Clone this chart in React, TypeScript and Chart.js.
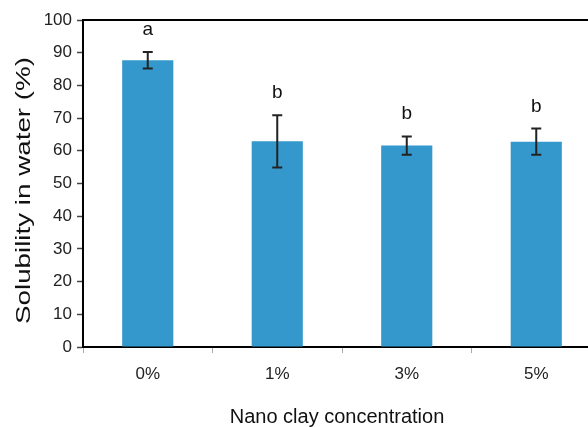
import React, { useEffect, useRef } from "react";
import { Chart, registerables } from "chart.js";

Chart.register(...registerables);

const categories = ["0%", "1%", "3%", "5%"];
const values = [87.7, 62.9, 61.6, 62.8];
const errors = [2.5, 8, 2.8, 4];
const letters = ["a", "b", "b", "b"];
const yTitle = "Solubility in water (%)";
const xTitle = "Nano clay concentration";

const FONT = "'Liberation Sans', Arial, sans-serif";

const extrasPlugin = {
  id: "extras",
  afterDatasetsDraw(chart: any) {
    const { ctx, chartArea, scales } = chart;
    const xs = scales.x;
    const ys = scales.y;
    ctx.save();
    // top border
    ctx.strokeStyle = "#000";
    ctx.lineWidth = 2;
    ctx.beginPath();
    ctx.moveTo(chartArea.left - 1, chartArea.top);
    ctx.lineTo(chartArea.right, chartArea.top);
    ctx.stroke();
    // error bars and letters
    ctx.strokeStyle = "#222";
    ctx.lineWidth = 2;
    values.forEach((v, i) => {
      const x = xs.getPixelForValue(i);
      const yt = ys.getPixelForValue(v + errors[i]);
      const yb = ys.getPixelForValue(v - errors[i]);
      ctx.beginPath();
      ctx.moveTo(x, yt);
      ctx.lineTo(x, yb);
      ctx.moveTo(x - 5, yt);
      ctx.lineTo(x + 5, yt);
      ctx.moveTo(x - 5, yb);
      ctx.lineTo(x + 5, yb);
      ctx.stroke();
      ctx.fillStyle = "#111";
      ctx.font = `19px ${FONT}`;
      ctx.textAlign = "center";
      ctx.textBaseline = "alphabetic";
      ctx.fillText(letters[i], x, yt - 17);
    });
    // y title (stretched along its length like the reference)
    ctx.fillStyle = "#111";
    ctx.font = `20px ${FONT}`;
    ctx.textAlign = "center";
    ctx.textBaseline = "middle";
    const w = ctx.measureText(yTitle).width;
    const targetLen = 267;
    ctx.save();
    ctx.translate(24, (chartArea.top + chartArea.bottom) / 2 + 7);
    ctx.rotate(-Math.PI / 2);
    ctx.scale(targetLen / w, 1);
    ctx.fillText(yTitle, 0, 0);
    ctx.restore();
    // x title
    ctx.font = `20px ${FONT}`;
    ctx.textBaseline = "middle";
    ctx.fillText(xTitle, (chartArea.left + chartArea.right) / 2 - 5, 417);
    ctx.restore();
  },
};

export default function App() {
  const ref = useRef<HTMLCanvasElement>(null);
  useEffect(() => {
    const chart = new Chart(ref.current!, {
      type: "bar",
      data: {
        labels: categories,
        datasets: [
          {
            data: values,
            backgroundColor: "#3498CC",
            borderWidth: 0,
            barPercentage: 0.395,
            categoryPercentage: 1,
          },
        ],
      },
      options: {
        responsive: false,
        animation: false,
        layout: { padding: { top: 20, right: 9, left: 0, bottom: 0 } },
        plugins: { legend: { display: false }, tooltip: { enabled: false } },
        scales: {
          x: {
            offset: true,
            grid: {
              display: true,
              drawOnChartArea: false,
              offset: true,
              tickLength: 6,
              tickColor: "#aaa",
              tickWidth: 1,
            },
            border: { color: "#000", width: 2 },
            ticks: { font: { family: FONT, size: 17 }, color: "#222", padding: 11 },
            title: { display: false, text: xTitle },
            afterFit(scale: any) {
              scale.height = 80;
            },
          },
          y: {
            min: 0,
            max: 100,
            ticks: { stepSize: 10, font: { family: FONT, size: 17 }, color: "#222", padding: 5 },
            grid: {
              display: true,
              drawOnChartArea: false,
              tickLength: 6,
              tickColor: "#444",
              tickWidth: 1.5,
            },
            border: { color: "#000", width: 2 },
            title: { display: false, text: yTitle },
            afterFit(scale: any) {
              scale.width = 83;
            },
          },
        },
      },
      plugins: [extrasPlugin],
    });
    return () => chart.destroy();
  }, []);
  return (
    <div style={{ position: "fixed", left: 0, top: 0, width: 610, height: 427, background: "#fff" }}>
      <canvas ref={ref} width={610} height={427} style={{ display: "block" }} />
    </div>
  );
}
